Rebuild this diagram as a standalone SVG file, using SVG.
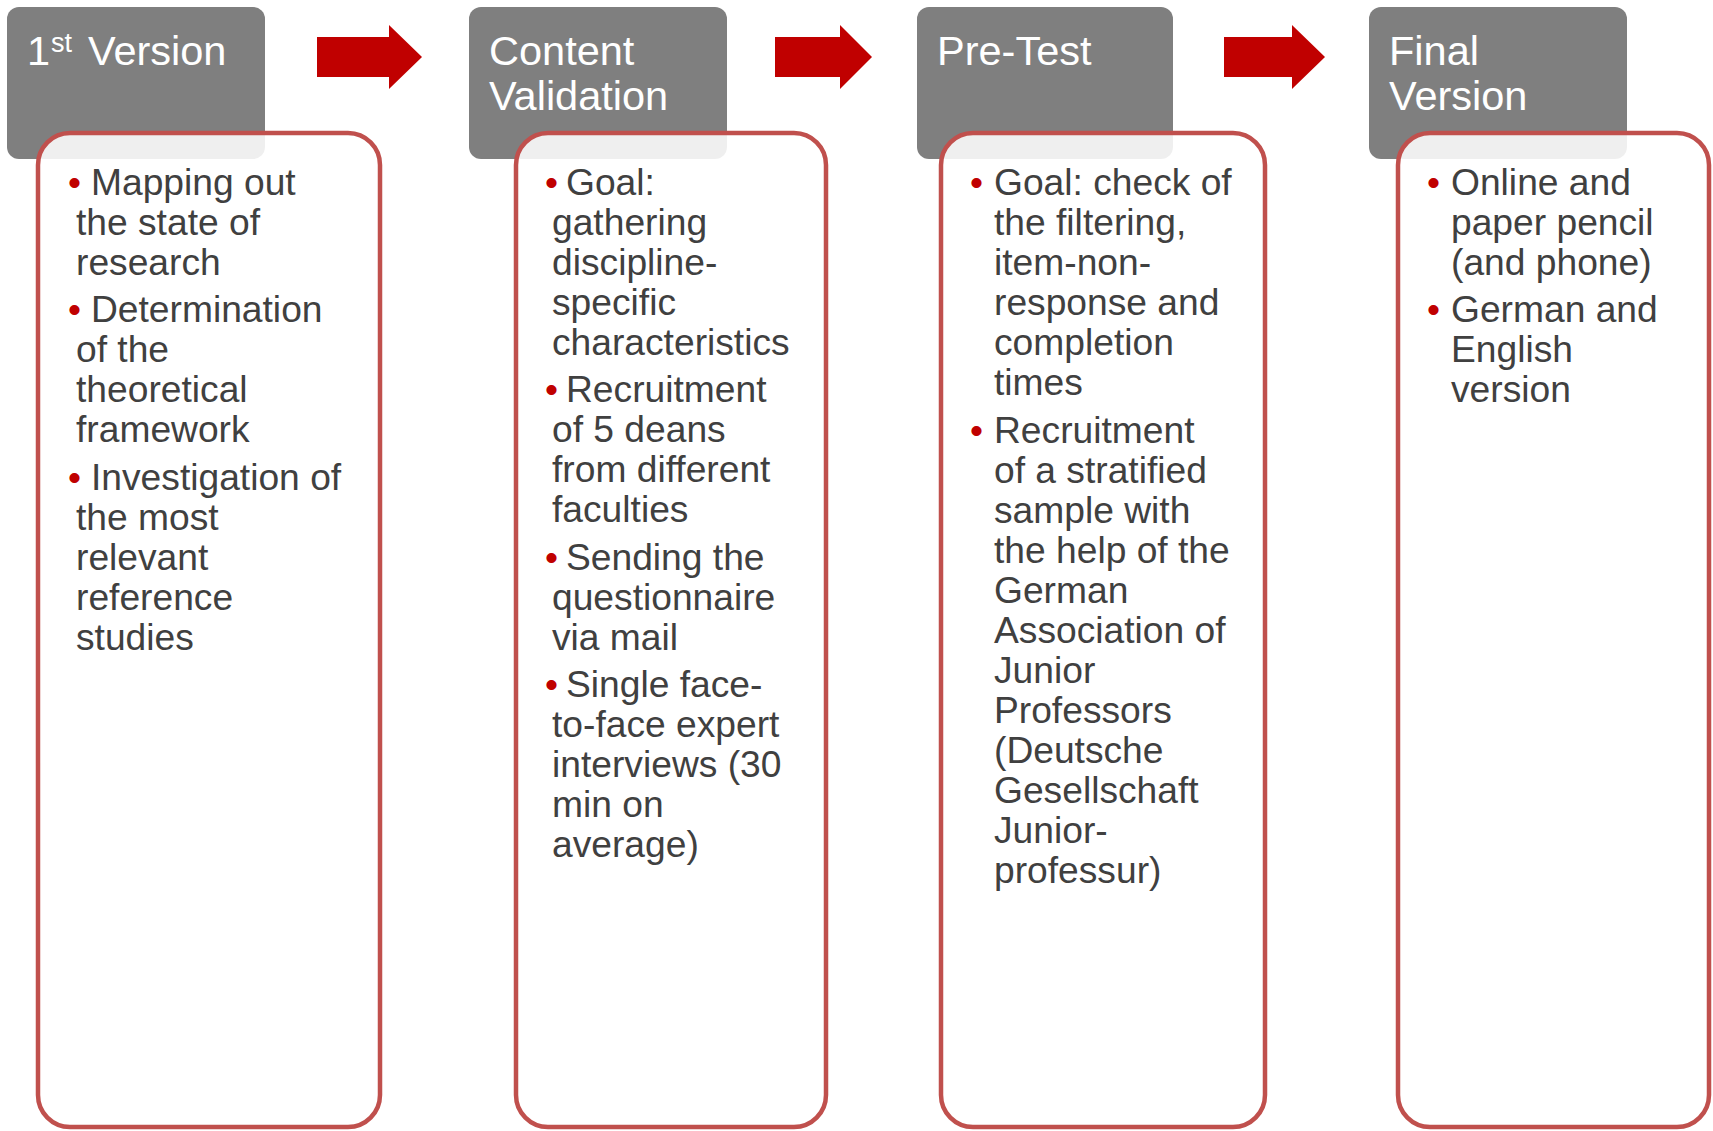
<svg xmlns="http://www.w3.org/2000/svg" width="1713" height="1131" viewBox="0 0 1713 1131">
  <style>
    .head { fill: #7f7f7f; }
    .card { fill: #ffffff; fill-opacity: 0.88; stroke: #c0504d; stroke-width: 4.5; }
    .title { font-family: "Liberation Sans", Arial, sans-serif; font-size: 41.5px; fill: #ffffff; }
    .sup { font-size: 27px; }
    .body { font-family: "Liberation Sans", Arial, sans-serif; font-size: 37.2px; fill: #404040; }
    .bul { fill: #c00000; }
    .arrow { fill: #c00000; }
  </style>

  <rect width="1713" height="1131" fill="#ffffff"/>

  <!-- step connectors -->
  <g id="connectors">
    <polygon class="arrow" points="317,37 389,37 389,25 422,57 389,89 389,77 317,77"/>
    <polygon class="arrow" points="775,37 840,37 840,25 872,57 840,89 840,77 775,77"/>
    <polygon class="arrow" points="1224,37 1292,37 1292,25 1325,57 1292,89 1292,77 1224,77"/>
  </g>

  <!-- step 1 -->
  <g id="step-first-version">
    <rect class="head" x="7" y="7" width="258" height="152" rx="12"/>
    <rect class="card" x="38" y="133" width="342" height="994" rx="32"/>
    <text class="title"><tspan x="27" y="65">1</tspan><tspan class="sup" x="51" y="52">st</tspan><tspan x="88" y="65">Version</tspan></text>
    <text class="body">
      <tspan class="bul" x="68" y="195">•</tspan><tspan x="91" y="195">Mapping out</tspan>
      <tspan x="76" y="235">the state of</tspan>
      <tspan x="76" y="275">research</tspan>
      <tspan class="bul" x="68" y="322">•</tspan><tspan x="91" y="322">Determination</tspan>
      <tspan x="76" y="362">of the</tspan>
      <tspan x="76" y="402">theoretical</tspan>
      <tspan x="76" y="442">framework</tspan>
      <tspan class="bul" x="68" y="490">•</tspan><tspan x="91" y="490">Investigation of</tspan>
      <tspan x="76" y="530">the most</tspan>
      <tspan x="76" y="570">relevant</tspan>
      <tspan x="76" y="610">reference</tspan>
      <tspan x="76" y="650">studies</tspan>
    </text>
  </g>

  <!-- step 2 -->
  <g id="step-content-validation">
    <rect class="head" x="469" y="7" width="258" height="152" rx="12"/>
    <rect class="card" x="516" y="133" width="310" height="994" rx="32"/>
    <text class="title"><tspan x="489" y="65">Content</tspan><tspan x="489" y="110">Validation</tspan></text>
    <text class="body">
      <tspan class="bul" x="545" y="195">•</tspan><tspan x="566" y="195">Goal:</tspan>
      <tspan x="552" y="235">gathering</tspan>
      <tspan x="552" y="275">discipline-</tspan>
      <tspan x="552" y="315">specific</tspan>
      <tspan x="552" y="355">characteristics</tspan>
      <tspan class="bul" x="545" y="402">•</tspan><tspan x="566" y="402">Recruitment</tspan>
      <tspan x="552" y="442">of 5 deans</tspan>
      <tspan x="552" y="482">from different</tspan>
      <tspan x="552" y="522">faculties</tspan>
      <tspan class="bul" x="545" y="570">•</tspan><tspan x="566" y="570">Sending the</tspan>
      <tspan x="552" y="610">questionnaire</tspan>
      <tspan x="552" y="650">via mail</tspan>
      <tspan class="bul" x="545" y="697">•</tspan><tspan x="566" y="697">Single face-</tspan>
      <tspan x="552" y="737">to-face expert</tspan>
      <tspan x="552" y="777">interviews (30</tspan>
      <tspan x="552" y="817">min on</tspan>
      <tspan x="552" y="857">average)</tspan>
    </text>
  </g>

  <!-- step 3 -->
  <g id="step-pre-test">
    <rect class="head" x="917" y="7" width="256" height="152" rx="12"/>
    <rect class="card" x="941" y="133" width="324" height="994" rx="32"/>
    <text class="title"><tspan x="937" y="65">Pre-Test</tspan></text>
    <text class="body">
      <tspan class="bul" x="970" y="195">•</tspan><tspan x="994" y="195">Goal: check of</tspan>
      <tspan x="994" y="235">the filtering,</tspan>
      <tspan x="994" y="275">item-non-</tspan>
      <tspan x="994" y="315">response and</tspan>
      <tspan x="994" y="355">completion</tspan>
      <tspan x="994" y="395">times</tspan>
      <tspan class="bul" x="970" y="443">•</tspan><tspan x="994" y="443">Recruitment</tspan>
      <tspan x="994" y="483">of a stratified</tspan>
      <tspan x="994" y="523">sample with</tspan>
      <tspan x="994" y="563">the help of the</tspan>
      <tspan x="994" y="603">German</tspan>
      <tspan x="994" y="643">Association of</tspan>
      <tspan x="994" y="683">Junior</tspan>
      <tspan x="994" y="723">Professors</tspan>
      <tspan x="994" y="763">(Deutsche</tspan>
      <tspan x="994" y="803">Gesellschaft</tspan>
      <tspan x="994" y="843">Junior-</tspan>
      <tspan x="994" y="883">professur)</tspan>
    </text>
  </g>

  <!-- step 4 -->
  <g id="step-final-version">
    <rect class="head" x="1369" y="7" width="258" height="152" rx="12"/>
    <rect class="card" x="1398" y="133" width="311" height="994" rx="32"/>
    <text class="title"><tspan x="1389" y="65">Final</tspan><tspan x="1389" y="110">Version</tspan></text>
    <text class="body">
      <tspan class="bul" x="1427" y="195">•</tspan><tspan x="1451" y="195">Online and</tspan>
      <tspan x="1451" y="235">paper pencil</tspan>
      <tspan x="1451" y="275">(and phone)</tspan>
      <tspan class="bul" x="1427" y="322">•</tspan><tspan x="1451" y="322">German and</tspan>
      <tspan x="1451" y="362">English</tspan>
      <tspan x="1451" y="402">version</tspan>
    </text>
  </g>
</svg>
